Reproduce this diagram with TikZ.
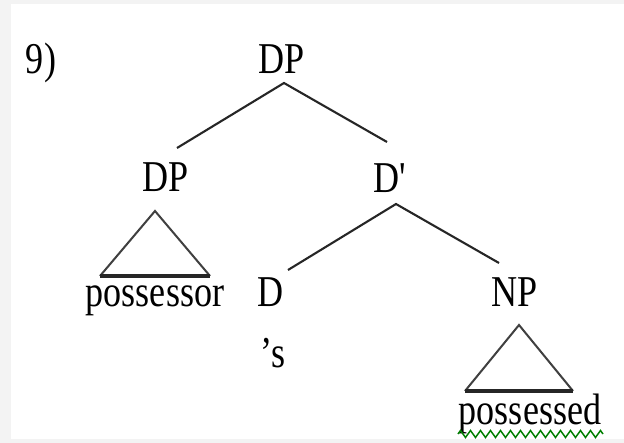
\documentclass[tikz,border=0pt]{standalone}
\usepackage{fontspec}
\setmainfont[FakeStretch=0.82]{Liberation Serif}
\usetikzlibrary{decorations.pathmorphing}
\definecolor{bordergray}{RGB}{243,243,243}
\definecolor{spellgreen}{RGB}{0,128,0}
\tikzset{
  lbl/.style={anchor=base, inner sep=0pt, outer sep=0pt},
  branch/.style={draw=black!85, line width=2.1pt},
  tri/.style={draw=black!75, line width=2pt},
  triBase/.style={draw=black!85, line width=3.5pt},
  squiggle/.style={draw=spellgreen, line width=1.5pt, decorate,
    decoration={zigzag, segment length=10pt, amplitude=3.5pt}}
}
\begin{document}
\begin{tikzpicture}[x=1pt, y=-1pt, font=\fontsize{44pt}{50pt}\selectfont]
\useasboundingbox (0,0) rectangle (624,443);
\fill[bordergray] (0,0) rectangle (624,443);
\fill[white] (11,4) rectangle (624,439);

\node[lbl] (num) at (41,74) {9)};
\node[lbl] (dp) at (282,74) {DP};
\node[lbl] (dpl) at (166,192) {DP};
\node[lbl] (dbar) at (390,193) {D\textquotesingle};
\node[lbl] (d) at (271,307) {D};
\node[lbl] (np) at (515,307) {NP};
\node[lbl] (possessor) at (155,307) {possessor};
\node[lbl] (s) at (273,368) {’s};
\node[lbl] (possessed) at (530,425) {possessed};

\draw[branch] ([shift={(11,-44)}]dpl.base) -- ([shift={(2,9)}]dp.base) -- ([shift={(-3,-51)}]dbar.base);
\draw[branch] ([shift={(17,-37)}]d.base) -- ([shift={(6,11)}]dbar.base) -- ([shift={(-16,-44)}]np.base);

\draw[tri, line join=miter] ([shift={(-66,84)}]dpl.base) -- ([shift={(-11,19)}]dpl.base) -- ([shift={(44,84)}]dpl.base);
\draw[triBase] ([shift={(-66,84)}]dpl.base) -- ([shift={(44,84)}]dpl.base);

\draw[tri, line join=miter] ([shift={(-50,84)}]np.base) -- ([shift={(4,18)}]np.base) -- ([shift={(58,84)}]np.base);
\draw[triBase] ([shift={(-50,84)}]np.base) -- ([shift={(58,84)}]np.base);

\draw[squiggle] ([shift={(-72,9)}]possessed.base) -- ([shift={(73,9)}]possessed.base);
\end{tikzpicture}
\end{document}
